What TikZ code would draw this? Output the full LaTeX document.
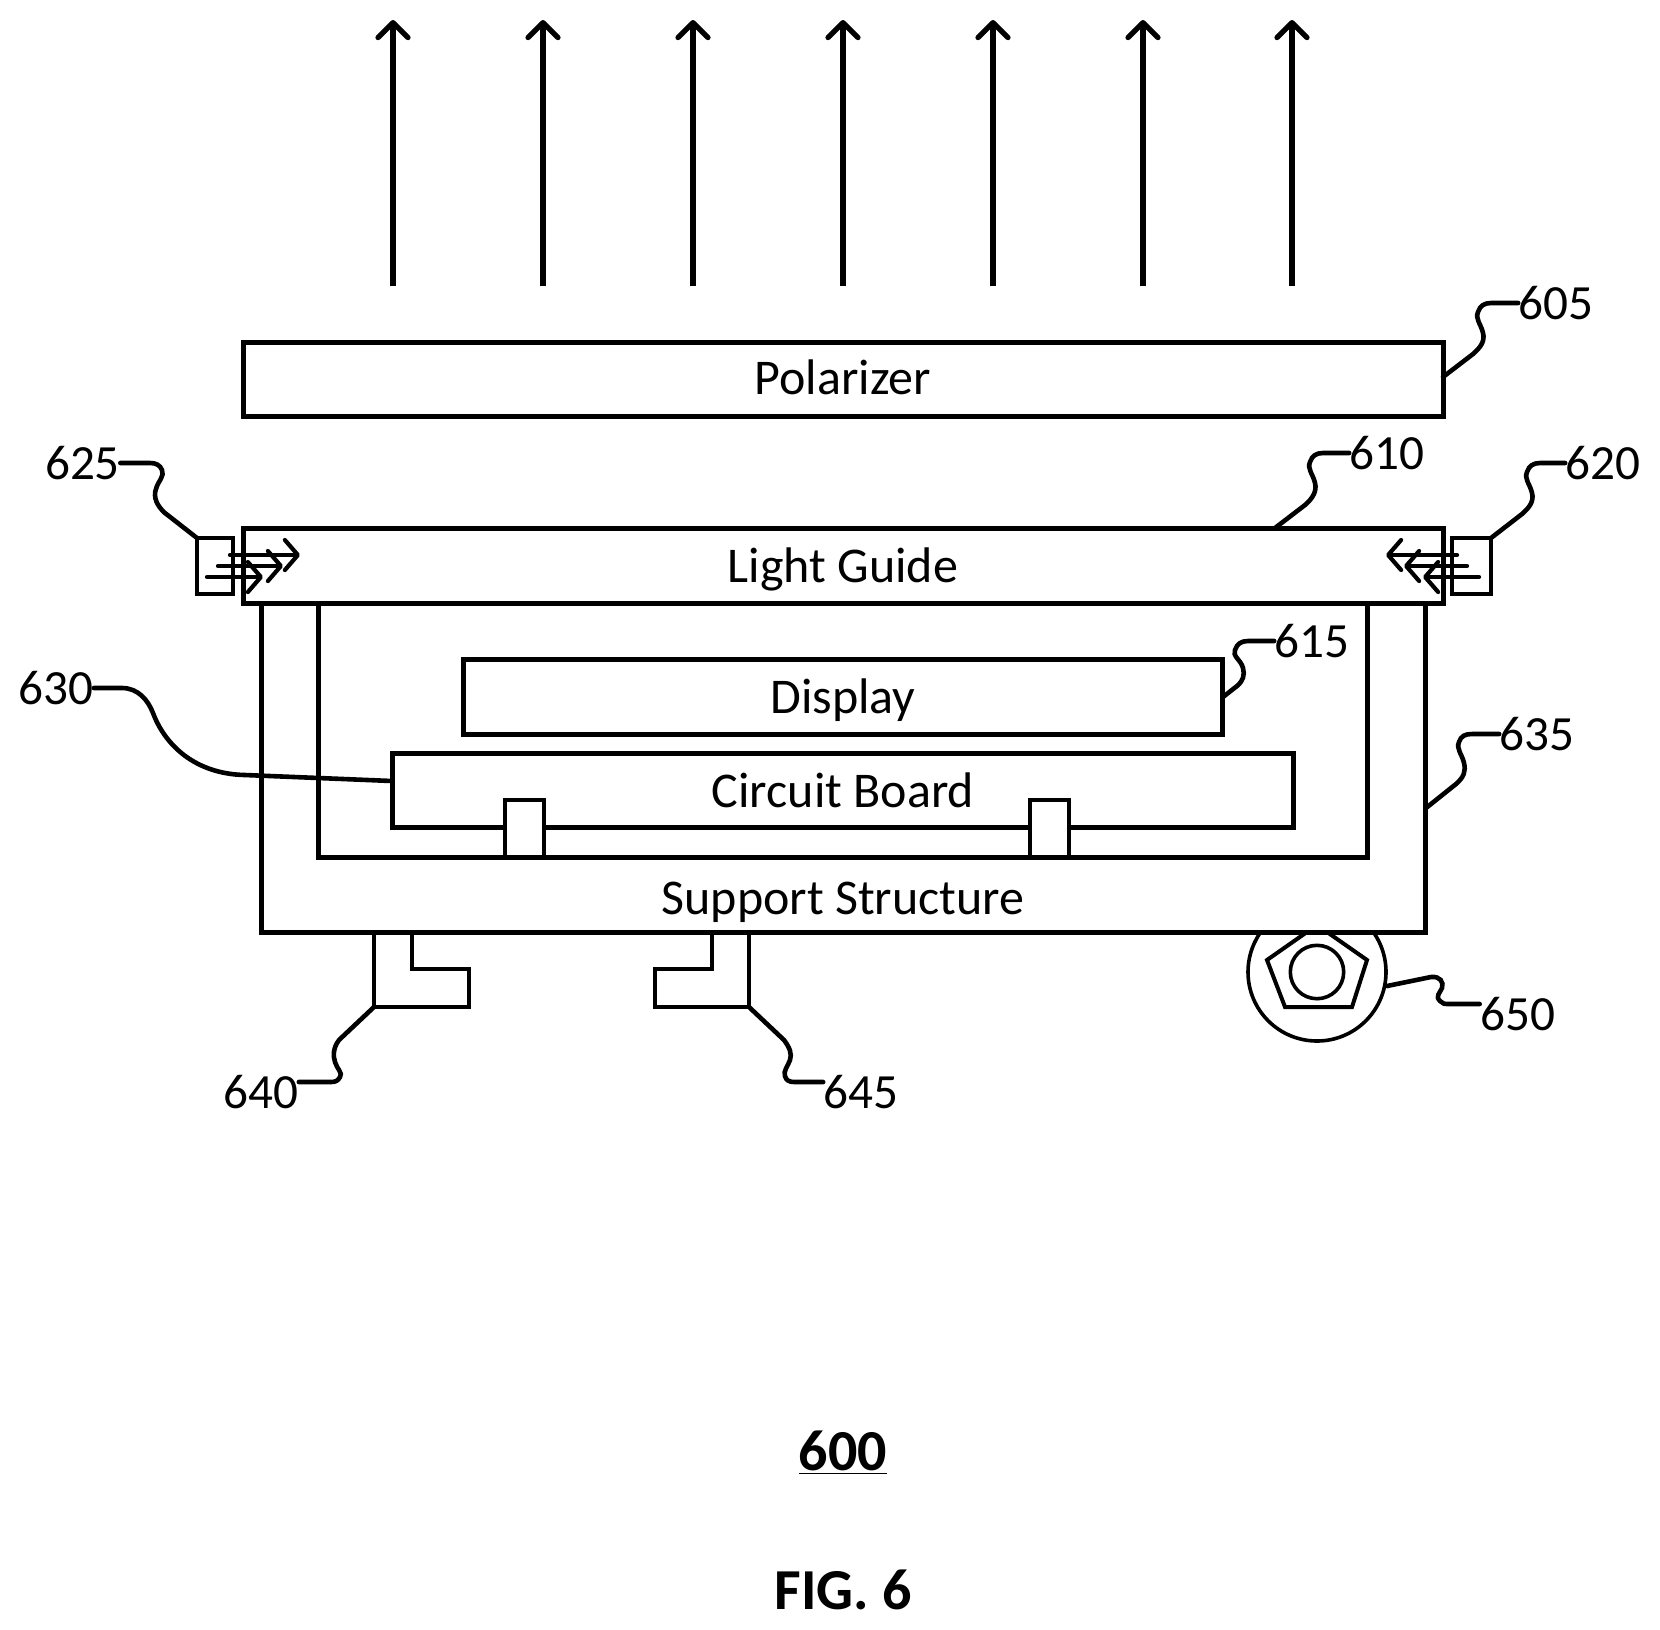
\documentclass[tikz,border=0pt]{standalone}
\usepackage{fontspec}
\setmainfont{Carlito}
\usetikzlibrary{arrows.meta}
\tikzset{
  x=0.5pt,y=-0.5pt,
  line join=round,
  box/.style={draw,fill=white,line width=2.5pt,inner sep=0pt,font=\fontsize{25}{30}\selectfont},
  thin box/.style={box,line width=2.1pt},
  rim/.style={draw,fill=white,line width=1.8pt,inner sep=0pt,circle},
  outline/.style={draw,line width=2pt},
  beam/.style={draw,line width=2.6pt,-{Straight Barb[length=7.5pt,width=15pt,line width=2.6pt,round]}},
  ray/.style={draw,line width=2.1pt,line cap=round,-{Straight Barb[length=6.5pt,width=15pt,line width=2.1pt,round]}},
  leader/.style={draw,line width=2.3pt,line cap=round},
  tag/.style={inner sep=0pt,font=\fontsize{24.6}{29}\selectfont},
  caption/.style={inner sep=0pt,anchor=base,font=\fontsize{25}{30}\selectfont},
  title/.style={inner sep=0pt,anchor=base,font=\fontsize{29}{34}\selectfont\bfseries},
}
\newcommand\pbox[7][box]{%
  \node[#1,minimum width={(#5-#3)*0.5},minimum height={(#6-#4)*0.5}] (#2) at ({(#3+#5)/2},{(#4+#6)/2}) {#7};}
\begin{document}
\begin{tikzpicture}
\useasboundingbox (0,0) rectangle (1660,1629);
% output rays
\foreach \n/\x in {a/393,b/543,c/693,d/843,e/993,f/1143,g/1292}{
  \coordinate (\n0) at (\x,286);
  \coordinate (\n1) at (\x,20);
  \path[beam] (\n0) -- (\n1);
}
% wheel
\node[rim,minimum size=69pt] (wheel) at (1317,972) {};
\draw[outline] (1317,925) -- (1367,960) -- (1352,1007) -- (1285,1007) -- (1267,960) -- cycle;
\node[rim,minimum size=26.7pt] (hub) at (1317,972) {};
% brackets
\draw[outline] (374,932) -- (374,1007) coordinate (b640) -- (469,1007) -- (469,969) -- (412,969) -- (412,932);
\draw[outline] (749,932) -- (749,1007) coordinate (b645) -- (655,1007) -- (655,969) -- (712,969) -- (712,932);
% support
\pbox{support}{261}{603}{1425}{932}{}
\pbox{cavity}{318}{603}{1367}{857}{}
\pbox{board}{392}{753}{1293}{827}{}
\pbox[thin box]{postl}{505}{800}{544}{857}{}
\pbox[thin box]{postr}{1030}{800}{1069}{857}{}
\pbox{display}{463}{659}{1222}{734}{}
\pbox{polar}{243}{342}{1443}{416}{}
\pbox{guide}{243}{528}{1443}{603}{}
\pbox[thin box]{ledl}{197}{538}{233}{594}{}
\pbox[thin box]{ledr}{1452}{538}{1491}{594}{}
% captions
\node[caption] (tp) at (843,394) {Polarizer};
\node[caption] (tg) at (843,582) {Light Guide};
\node[caption] (td) at (843,713) {Display};
\node[caption] (tb) at (843,807) {Circuit Board};
\node[caption] (ts) at (843,914) {Support Structure};
\node[title] (t600) at (843,1470) {\underline{600}};
\node[title] (tfig) at (843,1609) {FIG. 6};
% light rays
\foreach \n/\xa/\xb/\y in {la/230/300/555,lb/218/283/566,lc/207/263/577,ra/1457/1386/555,rb/1467/1404/566,rc/1479/1423/577}{
  \coordinate (\n0) at (\xa,\y);
  \coordinate (\n1) at (\xb,\y);
  \path[ray] (\n0) -- (\n1);
}
% labels
\node[tag] (n605) at (1556,303) {605};
\node[tag] (n610) at (1387,453) {610};
\node[tag] (n615) at (1312,641) {615};
\node[tag] (n620) at (1603,463) {620};
\node[tag] (n625) at (82.5,463) {625};
\node[tag] (n630) at (56,688) {630};
\node[tag] (n635) at (1537,734) {635};
\node[tag] (n640) at (261,1092) {640};
\node[tag] (n645) at (861,1092) {645};
\node[tag] (n650) at (1517.5,1014) {650};
% leaders
\coordinate (s605) at (1443,377);
\coordinate (s610) at (1275,528);
\coordinate (s615) at (1223,697);
\coordinate (s620) at (1491,538);
\coordinate (s625) at (197,538);
\coordinate (s630) at (392,781);
\coordinate (s635) at (1426,808);
\coordinate (s650) at (1387,986);
\path[leader] (s605) -- (1473,354) .. controls (1481,347) and (1485,341) .. (1483,333) .. controls (1481,324) and (1475,319) .. (1478,312) .. controls (1480,306) and (1484,303) .. (1491,303) -- (n605.west);
\path[leader] (s610) -- (1305,505) .. controls (1313,498) and (1317,491) .. (1315,483) .. controls (1313,474) and (1307,469) .. (1310,462) .. controls (1312,456) and (1316,453) .. (1323,453) -- (n610.west);
\path[leader] (s615) -- (1237,686) .. controls (1243,681) and (1245,675) .. (1243,668) .. controls (1241,660) and (1232,656) .. (1235,650) .. controls (1237,644) and (1241,641) .. (1248,641) -- (n615.west);
\path[leader] (s620) -- (1522,514) .. controls (1530,507) and (1534,501) .. (1532,493) .. controls (1530,484) and (1524,479) .. (1527,472) .. controls (1529,466) and (1533,463) .. (1540,463) -- (n620.west);
\path[leader] (s625) -- (165,513) .. controls (157,506) and (153,497) .. (156,489) .. controls (158,481) and (165,476) .. (162,470) .. controls (160,465) and (156,463) .. (150,463) -- (n625.east);
\path[leader] (n630.east) -- (122,688) .. controls (138,688) and (148,700) .. (153,713) .. controls (165,745) and (195,774) .. (245,775) -- (s630);
\path[leader] (s635) -- (1456,784) .. controls (1464,777) and (1466,771) .. (1464,763) .. controls (1462,754) and (1456,749) .. (1459,742) .. controls (1461,736) and (1465,734) .. (1472,734) -- (n635.west);
\path[leader] (b640) -- (339,1040) .. controls (333,1048) and (333,1056) .. (335,1062) .. controls (337,1069) and (343,1073) .. (340,1077) .. controls (338,1081) and (335,1082) .. (331,1082) -- (n640.east |- 0,1082);
\path[leader] (b645) -- (784,1040) .. controls (790,1048) and (792,1054) .. (790,1060) .. controls (788,1066) and (783,1071) .. (785,1076) .. controls (786,1080) and (789,1082) .. (794,1082) -- (n645.west |- 0,1082);
\path[leader] (s650) -- (1431,977) .. controls (1440,976) and (1444,982) .. (1442,988) .. controls (1440,993) and (1435,996) .. (1440,1001) .. controls (1442,1004) and (1445,1004) .. (1450,1004) -- (n650.west |- 0,1004);
\end{tikzpicture}
\end{document}
